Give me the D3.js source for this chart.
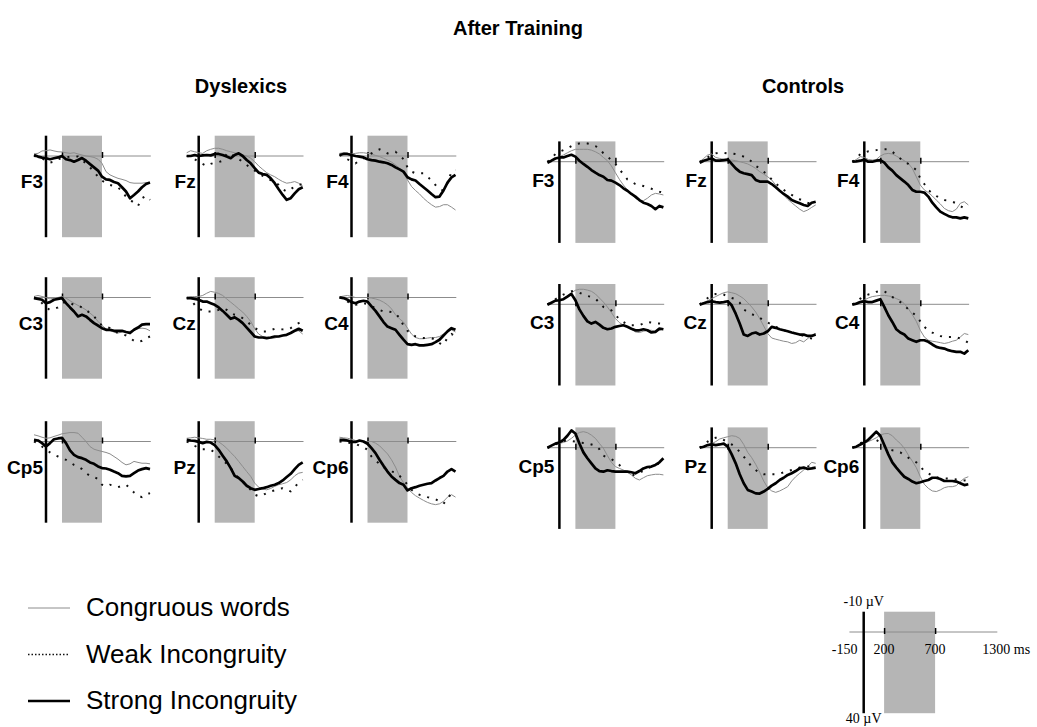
<!DOCTYPE html>
<html lang="en">
<head>
<meta charset="UTF-8">
<title>After Training</title>
<script src="https://d3js.org/d3.v7.min.js"></script>
<style>
  body { margin: 0; background: #fff; }
  svg { display: block; font-family: "Liberation Sans", Arial, sans-serif; }
  .window { fill: #b5b5b5; }
  .baseline { stroke: #8c8c8c; stroke-width: 1; }
  .onset { stroke: #000; stroke-width: 2.5; }
  .congruous { fill: none; stroke: #8c8c8c; stroke-width: 1; }
  .weak { fill: none; stroke: #111; stroke-width: 2; stroke-dasharray: 2 7; }
  .strong { fill: none; stroke: #000; stroke-width: 2.7; stroke-linejoin: round; }
  .ticks line { stroke: #000; stroke-width: 1.5; }
  .elec { font-weight: bold; font-size: 19px; }
  .title { font-weight: bold; font-size: 20px; }
  .legend-text { font-size: 26px; }
  .scale-text { font-family: "Liberation Serif", "Times New Roman", serif; font-size: 14px; }
</style>
</head>
<body>
<svg width="1037" height="727"></svg>
<script>
// sample times (ms)
const times = [-150, -100, -50, 0, 50, 100, 150, 200, 250, 300, 350, 400, 450, 500, 550,
               600, 650, 700, 750, 800, 850, 900, 950, 1000, 1050, 1100, 1150, 1200, 1250, 1300];

const electrodes = [["F3", "Fz", "F4"], ["C3", "Cz", "C4"], ["Cp5", "Pz", "Cp6"]];
const windowMs = [200, 700];
const legendLabels = ["Congruous words", "Weak Incongruity", "Strong Incongruity"];
const scaleTimeLabels = ["-150", "200", "700", "1300 ms"];
const scaleVoltLabels = ["-10 \u00b5V", "40 \u00b5V"];

// amplitudes in µV (negative plotted up)
const dysCongruous = {
  F3: [-1,-1.3,-2.5,-2.6,-3,-2.5,-2.1,-2,-1.6,-1.3,-1.6,-1,-0.5,0,0.3,0.7,1.6,3.6,7.7,9.3,10.2,11,11.5,12.1,13.1,13.4,13.4,13.4,13.1,13.1],
  Fz: [-1.6,-2.6,-2.1,-1.6,-1.3,-2.6,-3.3,-3.8,-3.8,-3.3,-2.6,-2.1,-1.6,-1,-0.5,0,1.1,2.8,4.9,6.6,8.2,9.3,10.2,11.5,12.6,13.4,13.1,12.6,13.4,14.8],
  F4: [-1.3,-1.6,-1.3,-1,-1.3,-1.6,-1.6,-1.3,-1,-0.3,0.3,1.1,2,3,4.4,6,8.5,11.8,15,17,18.7,20.8,22.5,24,25.2,24.9,24,24,25.2,26.6],
  C3: [-0.5,-1,-0.5,0,0.7,0.3,0,-0.5,0.3,1.6,2.8,3.9,4.9,6.1,7.7,9.3,11.8,13.8,15.4,16.4,17,17.5,17,16.7,16.7,15.9,15.4,15.1,15.4,16.4],
  Cz: [0,-0.3,-0.5,-0.5,-1,-2.1,-3,-2.6,-2,-1,0.7,2.3,3.9,5.6,7.2,9.3,11.8,15.4,18,19.2,19.7,20,20,19.2,18.7,18.4,17.7,16.7,16.4,18],
  C4: [-0.3,-0.7,-1,-0.5,0,0,0,0,0.3,0.7,1.3,2.3,3.6,5.6,8.5,10.5,12.1,15.1,18,19.7,20.3,20.3,20,19.7,19.7,19.2,18,16.7,15.9,17],
  Cp5: [-3.3,-2.8,-2.1,-1.6,-1.8,-2.5,-3.1,-3.8,-4.1,-4.4,-4.4,-4.1,-2.1,0,2.5,3.8,4.4,4.9,5.4,6.1,7.4,8.7,10.3,11.5,11,9.8,10.3,10.7,10.7,11],
  Pz: [-1.6,-1.8,-2.1,-1.8,-1.5,-1.1,-1.1,-0.8,0.2,1.6,3.3,5.4,7.4,9.8,12.3,14.8,17.2,20.5,22.5,23.4,23.8,23.1,22.1,21.3,20.8,20.2,18.9,16.9,15.6,15.2],
  Cp6: [-2.1,-1.8,-1.6,-1.1,-0.5,0,0,0,0,0.8,2.1,4.1,6.1,9,12.6,17.2,20.2,23,25.1,26.7,27.9,29,30,30.7,31.1,30.7,29.5,27.4,26.2,27.4]
};
const dysWeak = {
  F3: [0,0.3,1.1,2.3,3.3,2.8,1.6,1.1,0.7,0.3,0.3,0.3,2,3.6,5.6,7.7,10.2,12.1,13.4,14.3,14.8,15.4,17.5,20,21.6,23,24.6,20.8,19.7,21.6],
  Fz: [0,0.3,1.6,2.8,3.9,4.9,3.9,3.3,3,2.3,-1,-1.6,0.7,1.6,2.8,4.4,6,7.2,8.5,9.8,11,11.8,12.6,14.3,16.4,17.5,16.4,15,14.3,13.8],
  F4: [-0.5,0.3,1.6,2.8,3.6,2.3,1.1,0,-1.3,-2.6,-3.3,-2.3,-1.3,-1.6,-2.1,-0.5,1.6,5.6,7.7,8.5,8.5,8.5,10.2,12.1,14.3,16.4,17,13.4,7.7,6.9],
  C3: [0,0.7,2.8,4.9,6.1,5.6,4.9,2.8,2,2.8,3.6,3.9,4.9,6.1,7.7,9.3,11.8,13.8,14.4,15.1,16.7,17.5,18,18.7,20,21.3,22,21.3,20,19.2],
  Cz: [0,1.1,3.6,5.2,6.6,6.9,6.9,6.9,6.1,5.2,6.1,7.7,8.5,8.9,10.2,11.8,13.4,15.1,15.9,16.7,16.7,16.1,15.4,15.4,15.7,15.9,15.1,13.8,12.6,11.8],
  C4: [0,0.3,2,3.3,3.6,3.3,2.8,3.3,4.4,5.2,6.1,6.9,6.9,7.2,7.7,10.2,13.8,16.4,18,19.2,19.7,20,20,20,20.8,22.5,23.3,19.7,18,19],
  Cp5: [0,0.8,2.5,3.8,5.4,6.6,7.4,8.2,9,10.3,11.5,12.3,13.6,15.6,16.9,17.5,18.5,21.3,22.1,21.3,21.8,22.5,21.8,21.3,23,25.1,26.7,27.4,26.2,25.4],
  Pz: [0,0.8,2.1,3.3,3.8,3.8,4.1,5.4,7.4,9,11,13.1,15.9,18,19.7,21.8,23.8,26.2,27,26.4,25.4,24.6,24.1,23.4,23,23.8,24.6,22.5,20.2,18.9],
  Cp6: [0,0.2,0.5,0.8,1.1,2.1,2.8,4.1,7.4,9.3,11,12.6,13.9,14.8,15.2,16.9,18.9,21.3,23.8,25.4,26.2,26.7,27.4,27.9,28.4,29.5,30.7,27.9,25.7,24.6]
};
const dysStrong = {
  F3: [-0.5,0.3,0.8,1.1,1.6,1.1,0.7,0,1.6,2,2.8,2,1,2.3,4,5.6,7.2,10.2,11.5,11.8,12.8,13.4,15.4,17.5,20.8,19.2,17.5,15.4,13.8,13.1],
  Fz: [0,0,-0.5,0,-0.3,-0.5,-0.3,-1,-1,-0.5,0.3,1.1,-0.5,-1.3,0,2,3.6,6,8.2,8.9,9.3,11,13.4,16.4,19.2,21.6,20.8,18.4,16.4,15.4],
  F4: [-0.5,-1,-1,-0.5,0,0.3,0.7,1.6,2,2.3,2.8,3.1,3.6,4.4,5.6,6.6,7.7,10.5,11.5,12.1,13.8,15.4,17,18.7,20.3,20,17,13.1,10.5,9.3],
  C3: [0.3,0.7,1.1,2.8,2.3,1.1,0.7,0.3,2.8,4.9,6.9,9.3,8.5,9.3,11,12.6,13.8,15.1,15.9,15.9,16.4,16.4,16.4,17,17.5,15.9,14.8,13.4,13.1,13.1],
  Cz: [0.3,0.3,0.7,1.1,2,2,2.8,3.6,4.9,6.6,8.5,10.5,9.8,11,12.6,14.8,17,19.2,19.7,19.7,20,19.7,19.2,19.2,18.7,18.4,17.5,16.4,15.4,16.4],
  C4: [0,0.3,1.1,2.3,2.8,2,1.6,2,4.4,6.6,9.3,12.1,14.3,15.1,15.9,18.4,20.8,23,23.3,23,23.6,23.6,23.3,23,22,20.8,18.7,16.7,15.1,15.9],
  Cp5: [-0.8,-0.5,0.8,2.5,0.8,-1.1,-1.5,-1.8,0.8,4.4,6.6,7.7,8.2,9,10.3,11,12.3,13.1,13.3,13.9,14.8,15.6,16.9,17.2,16.9,15.6,14.3,13.6,13.1,13.6],
  Pz: [-0.8,-0.5,-0.3,0.2,0.8,0.2,0.5,1.8,4.1,7,9.8,13.1,16.9,18,19.7,21.8,23,23.8,23.4,23,22.5,21.8,21.3,20.5,19.2,17.5,15.9,13.6,11.5,10.3],
  Cp6: [-0.8,-0.8,-0.5,0.2,0.2,-0.5,0,1.1,3.3,5.7,9,12,14.8,17.2,18.9,20.5,21.3,24.1,23,22.5,21.8,21.3,20.8,20.5,19.2,18,16.9,14.8,13.6,14.8]
};

const ctlCongruous = {
  F3: [0,-0.5,-1.6,-2.5,-3.3,-4.4,-5.4,-6.1,-6.1,-6.1,-6.1,-5.7,-4.9,-3.8,-2.1,-0.5,2.1,5.4,8.7,11.5,13.9,15.9,18,19.2,19.2,18,16.4,15.6,15.9,16.4],
  Fz: [0,-1.6,-3.3,-3.8,-2.1,-1.6,-1.1,-0.8,-0.8,-0.5,0,0.5,1.1,2.1,3.3,4.9,6.1,7.4,9,11.5,13.9,16.4,18.5,20.2,21.8,23.4,24.6,23.8,22.5,21.3],
  F4: [0,-1.1,-2.5,-2.1,-1.1,-0.8,-1.1,-2.8,-3.8,-4.1,-3.8,-2.8,-1.6,-0.5,0.8,3.3,7.4,11.5,13.9,15.2,16.9,18.9,20.8,23,24.1,24.6,23.4,20.5,19.7,21.3],
  C3: [-0.2,-0.8,-1.5,-2,-2.8,-4.1,-5.7,-6.9,-7.4,-7.4,-7,-6.4,-5.1,-3.1,-1.1,1.3,4.1,7,9,10.3,11.1,12.3,13.6,13.9,13.3,12.8,12.8,13.3,12.8,12],
  Cz: [-0.2,-0.8,-1.8,-2.8,-3.8,-4.8,-5.7,-6.1,-5.7,-5.2,-4.1,-2.8,-0.8,1.3,3.8,7,10.7,14.4,16.6,17.2,17.7,18.2,18.5,19.3,18.9,17.7,18.5,16.9,15.2,14.4],
  C4: [-0.2,-0.8,-1.5,-2.1,-3.1,-3.8,-4.1,-4.4,-4.4,-4.1,-3.8,-2.8,-2,-0.3,2.1,5.1,8.4,12.8,16.1,17.7,18.2,18.5,18.9,19.3,18.9,18.2,17.7,16.1,14.4,14.9],
  Cp5: [-0.3,-1,-1.6,-2.1,-2.6,-3.3,-4.6,-6.2,-7.5,-7.9,-7.4,-6.2,-4.6,-2.1,0.3,3.9,7.2,9.3,10.2,11,12.1,13.4,15.1,15.9,14.8,13.8,13.4,13.1,13.1,13.4],
  Pz: [-0.3,-0.7,-1.3,-2,-3,-4.3,-4.9,-5.4,-5.9,-5.6,-4.6,-1.6,2.3,4.9,8.2,12.1,16.4,19.7,21.3,22,21.3,20.3,19.2,16.4,14.3,12.6,11,9.3,7.2,7.7],
  Cp6: [0,-0.7,-1.3,-2,-3,-3.9,-4.9,-6.2,-6.9,-7,-5.9,-3.8,-2.1,0.3,3.6,6.6,9.8,14.3,18,20,21.3,21.6,20.8,19.7,19.2,19.2,18.7,16.7,15.1,14.3]
};
const ctlWeak = {
  F3: [0,-1.6,-3.8,-4.9,-5.7,-6.6,-7.7,-8.7,-9,-9.3,-9,-8.5,-7.7,-6.6,-4.1,-2.5,-0.8,1.1,3.8,6.1,8.7,9.8,11,11.5,12,12.6,13.3,14.3,14.8,15.2],
  Fz: [0,-0.8,-2.1,-3.3,-4.1,-4.4,-4.4,-4.1,-4.1,-3.8,-3.3,-2.5,-1.6,0,2.1,3.3,4.9,6.6,8.7,10.7,12.3,13.9,15.2,16.4,17.5,18.5,19.3,20.2,20.8,20.8],
  F4: [0,-1.6,-3.8,-4.4,-5.1,-5.4,-5.7,-6.1,-6.1,-6.1,-4.9,-3.3,-1.6,0,1.1,2.5,4.1,8.2,11,13.9,15.6,16.9,18,18.9,19.2,19.7,20.5,21.8,23,22.5],
  C3: [0,-1.1,-2.5,-3.6,-4.8,-5.7,-6.4,-6.4,-5.7,-4.8,-4.1,-3.6,-2.8,-0.8,1.3,2.1,3,5.1,7.4,8.7,10,10.3,10.3,10.3,9.5,8.7,9,9.5,9.5,10],
  Cz: [0,-1.5,-3.1,-4.4,-5.1,-5.2,-4.8,-3.8,-3.1,-2.5,-0.8,2.5,3.8,4.8,5.7,6.7,7.9,9,10,11.1,12,12.8,13.3,13.9,14.4,14.9,15.6,16.2,16.9,17.7],
  C4: [0,-1.1,-2.8,-4.1,-4.8,-5.2,-6.1,-6.7,-6.4,-5.1,-3.6,-2.5,-1.1,0.5,2.5,4.1,5.7,8.4,11.1,12.8,13.9,14.9,15.6,16.1,16.1,16.1,16.2,16.9,17.7,18.9],
  Cp5: [0,-0.5,-1.6,-2.6,-3.3,-3.6,-3.3,-3,-2.6,-2.3,-2.1,-1.6,-1,0.7,3.9,4.9,5.6,6.9,8.5,10.5,12.6,13.8,13.1,12.1,11.5,10.2,9.3,8.5,7.7,6.9],
  Pz: [0,-1.3,-3,-4.3,-4.9,-4.9,-3.8,-2.6,-1.6,0,2,4.4,6.9,9.3,11,12.6,13.1,13.1,13.1,13.1,12.8,12.1,11.5,11,10.5,9.8,9.5,9.3,9.3,9.3],
  Cp6: [0,-1,-2.1,-3.3,-4.3,-4.6,-3.8,-2.6,-1,0.7,1.3,1.6,2.3,3.6,4.9,6.1,7.2,9.3,11.5,12.6,13.8,14.4,15.1,15.1,15.2,15.4,15.7,15.9,16.1,16.4]
};
const ctlStrong = {
  F3: [0.5,-0.5,-1.6,-2.1,-2.1,-2.8,-3.4,-2.5,-0.5,1.1,2.5,4.1,5.4,6.6,7.4,9,9.3,10.3,11.5,13.1,14.3,15.9,17.2,18.9,20.2,20.8,21.8,23.4,21.8,22.5],
  Fz: [0.5,-0.5,-1.1,-1.6,-0.5,-0.5,-0.8,-1.1,1.1,3.3,4.9,5.7,6.1,6.6,9,9.8,9.8,9.8,11,12.6,14.3,15.9,17.2,18.9,19.7,20.5,21.3,21.8,20.2,19.7],
  F4: [0,-0.2,-0.5,-1.1,0,0,-0.5,-0.8,0.5,2.8,4.4,6.6,8.2,9.8,11.5,13.9,14.8,14.8,15.2,17.2,20.2,22.5,24.6,25.7,26.7,27.4,27.4,27.9,27.4,27.9],
  C3: [0.2,-0.8,-1.8,-2,-2.5,-3.8,-5.1,-2,2.5,5.7,8.4,9.5,8.7,10,11.6,12.3,11.9,11.1,10.7,10.3,11.1,12,12.8,12.8,12.3,12.8,13.9,13.6,12,12.3],
  Cz: [0.2,-0.5,-1.1,-1.5,-1.1,-0.8,-1.1,-1.5,0.5,4.6,9.5,14.9,15.6,14.4,13.9,14.9,14.4,13.3,11.1,11.6,12.3,12.8,13.3,13.9,14.4,14.9,14.9,15.6,15.6,14.9],
  C4: [0.2,-0.3,-1.1,-1.5,-1.1,-1.1,-1.8,-2.5,1.3,5.4,8.7,12.3,13.9,14.9,16.9,17.7,18.5,17.7,17.7,18.5,19.8,21,21.5,21.8,22.6,23.1,23.4,23.4,24.3,22.6],
  Cp5: [0,-1,-2,-2.6,-3.8,-5.9,-8.5,-7,-2.1,2.3,5.2,7.7,10.2,11.5,11.8,11.1,11.5,11.8,11.8,11.8,11.8,12.1,12.6,11.5,10.2,9.5,9.3,8.5,7.2,5.2],
  Pz: [0,-0.5,-1.3,-1.6,-1.3,-1.6,-2,-0.5,3.3,7.7,13.1,17.5,20.8,21.6,22.5,22.6,21.6,20.3,18.7,17.5,15.9,14.8,13.4,12.6,11.5,10.2,9.8,10.5,10.2,9.8],
  Cp6: [0,-0.5,-1.6,-2.6,-3.9,-5.9,-7.9,-5.9,-1.3,3.3,7.2,9.8,12.1,14.3,15.4,16.7,17.5,17,16.4,15.9,14.8,14.8,15.4,16.4,16.4,16.4,16.7,17.5,18.4,18]
};

const svg = d3.select("svg");

// one electrode panel: x0 = pixel of 0 ms, y0 = pixel of 0 µV
function drawPanel(x0, y0, pxPerMs, pxPerUv, series, label, labelDx, labelDy) {
  const x = d3.scaleLinear().domain([0, 1000]).range([x0, x0 + 1000 * pxPerMs]);
  const y = d3.scaleLinear().domain([0, 10]).range([y0, y0 + 10 * pxPerUv]);
  const g = svg.append("g");

  g.append("rect").attr("class", "window")
    .attr("x", x(windowMs[0])).attr("width", x(windowMs[1]) - x(windowMs[0]))
    .attr("y", y(-10)).attr("height", y(40) - y(-10));

  g.append("line").attr("class", "baseline")
    .attr("x1", x(-140)).attr("x2", x(1310))
    .attr("y1", y(0)).attr("y2", y(0));

  g.append("g").attr("class", "ticks")
    .attr("transform", `translate(0,${y(0) + 2})`)
    .call(d3.axisTop(x).tickValues(windowMs).tickSize(6).tickFormat(""))
    .call(a => a.select(".domain").remove());

  g.append("line").attr("class", "onset")
    .attr("x1", x(0)).attr("x2", x(0))
    .attr("y1", y(-10)).attr("y2", y(40));

  if (series) {
    const line = d3.line().x((d, i) => x(times[i])).y(d => y(d));
    g.append("path").datum(series[0]).attr("class", "congruous").attr("d", line);
    g.append("path").datum(series[1]).attr("class", "weak").attr("d", line);
    g.append("path").datum(series[2]).attr("class", "strong").attr("d", line);
  }

  if (label) {
    g.append("text").attr("class", "elec")
      .attr("x", x(0) + labelDx).attr("y", y(0) + labelDy)
      .attr("text-anchor", "end").attr("dominant-baseline", "middle")
      .text(label);
  }
  return { x, y };
}

const groups = [
  { name: "Dyslexics", cx: 241, cols: [46, 198.7, 351.5], rows: [156, 297.5, 441.5],
    cong: dysCongruous, weak: dysWeak, strong: dysStrong, dx: -3, dy: 27 },
  { name: "Controls", cx: 803, cols: [559.4, 711.7, 864.3], rows: [161.7, 304.3, 447.7],
    cong: ctlCongruous, weak: ctlWeak, strong: ctlStrong, dx: -5, dy: 20 }
];

groups.forEach(gr => {
  svg.append("text").attr("class", "title")
    .attr("x", gr.cx).attr("y", 93).attr("text-anchor", "middle").text(gr.name);
  electrodes.forEach((row, r) => {
    row.forEach((el, c) => {
      drawPanel(gr.cols[c], gr.rows[r], 0.08, 2.03,
        [gr.cong[el], gr.weak[el], gr.strong[el]], el, gr.dx, gr.dy);
    });
  });
});

svg.append("text").attr("class", "title")
  .attr("x", 518).attr("y", 35).attr("text-anchor", "middle").text("After Training");

// legend
const legendClasses = ["congruous", "weak", "strong"];
const legendY = d3.scalePoint().domain(legendLabels).range([608, 701]);
legendLabels.forEach((lab, i) => {
  const ly = legendY(lab);
  svg.append("line").attr("class", legendClasses[i])
    .attr("x1", 28).attr("x2", 70).attr("y1", ly).attr("y2", ly)
    .style("stroke-dasharray", i === 1 ? "1.5 2" : null)
    .style("stroke-width", i === 1 ? 1.5 : null);
  svg.append("text").attr("class", "legend-text")
    .attr("x", 86).attr("y", ly + 8).text(lab);
});

// calibration panel
const cal = drawPanel(863.7, 632, 0.102, 2.03, null, null);
svg.append("text").attr("class", "scale-text").attr("text-anchor", "middle")
  .attr("x", cal.x(0)).attr("y", cal.y(-10) - 6).text(scaleVoltLabels[0]);
svg.append("text").attr("class", "scale-text").attr("text-anchor", "middle")
  .attr("x", cal.x(0)).attr("y", 723).text(scaleVoltLabels[1]);
svg.append("text").attr("class", "scale-text").attr("text-anchor", "end")
  .attr("x", cal.x(-150) + 9).attr("y", cal.y(0) + 22).text(scaleTimeLabels[0]);
svg.append("text").attr("class", "scale-text").attr("text-anchor", "middle")
  .attr("x", cal.x(200)).attr("y", cal.y(0) + 22).text(scaleTimeLabels[1]);
svg.append("text").attr("class", "scale-text").attr("text-anchor", "middle")
  .attr("x", cal.x(700)).attr("y", cal.y(0) + 22).text(scaleTimeLabels[2]);
svg.append("text").attr("class", "scale-text").attr("text-anchor", "start")
  .attr("x", cal.x(1300) - 14).attr("y", cal.y(0) + 22).text(scaleTimeLabels[3]);
</script>
</body>
</html>
